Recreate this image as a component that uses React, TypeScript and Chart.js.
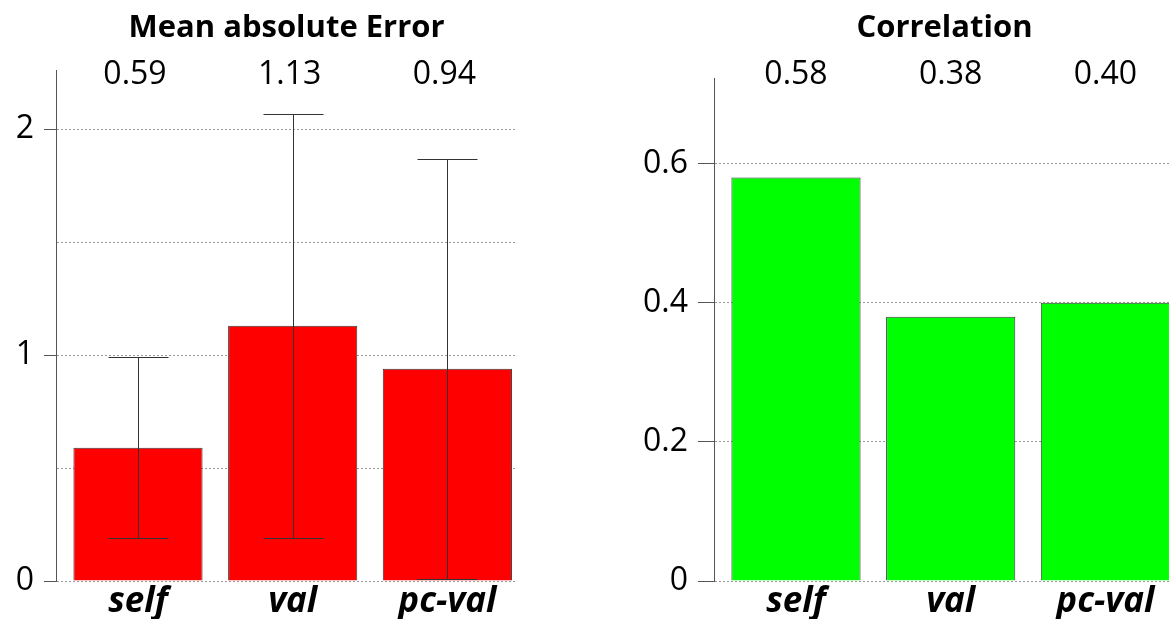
import React, { useEffect, useRef } from "react";
import { Chart, registerables } from "chart.js";

Chart.register(...registerables);

const categories = ["self", "val", "pc-val"];
const maeValues = [0.59, 1.13, 0.94];
const maeErrors = [0.4, 0.94, 0.93];
const corrValues = [0.58, 0.38, 0.4];
const maeTitle = "Mean absolute Error";
const corrTitle = "Correlation";

const FONT = '"Open Sans", "Noto Sans", sans-serif';

const overlayPlugin = {
  id: "overlay",
  afterDatasetsDraw(chart: any, _args: any, opts: any) {
    const { ctx, chartArea } = chart;
    const x = chart.scales.x;
    const y = chart.scales.y;
    const values: number[] = opts.values;
    const errors: number[] | undefined = opts.errors;
    ctx.save();
    if (errors) {
      ctx.strokeStyle = "#333";
      ctx.lineWidth = 1;
      values.forEach((v, i) => {
        const px = Math.round(x.getPixelForValue(i)) + 0.5;
        const top = Math.round(y.getPixelForValue(v + errors[i])) + 0.5;
        const bot = Math.round(y.getPixelForValue(v - errors[i])) + 0.5;
        ctx.beginPath();
        ctx.moveTo(px, top);
        ctx.lineTo(px, bot);
        ctx.moveTo(px - 30, top);
        ctx.lineTo(px + 30, top);
        ctx.moveTo(px - 30, bot);
        ctx.lineTo(px + 30, bot);
        ctx.stroke();
      });
    }
    ctx.fillStyle = "#000";
    ctx.textAlign = "center";
    ctx.textBaseline = "middle";
    ctx.font = `bold 31px ${FONT}`;
    ctx.fillText(opts.title, (chartArea.left + chartArea.right) / 2 + (opts.titleDx || 0), 28);
    ctx.font = `32px ${FONT}`;
    values.forEach((v, i) => {
      ctx.fillText(v.toFixed(2), x.getPixelForValue(i) + (opts.labelDx || 0), 75);
    });
    ctx.restore();
  },
};

function makeConfig(
  values: number[],
  color: string,
  yMax: number,
  step: number,
  yWidth: number,
  pad: any,
  tickLen: number,
  labelFn: (v: number) => string,
  tickShown: (v: number) => boolean,
  title: string,
  titleDx: number,
  labelDx: number,
  errors?: number[]
): any {
  return {
    type: "bar",
    data: {
      datasets: [
        {
          data: values.map((v, i) => ({ x: i, y: v })),
          backgroundColor: color,
          borderColor: "#3a3a3a",
          borderWidth: 1,
          categoryPercentage: 1,
          barPercentage: 0.835,
        },
      ],
    },
    options: {
      responsive: false,
      animation: false,
      devicePixelRatio: 1,
      layout: { padding: pad },
      plugins: {
        legend: { display: false },
        tooltip: { enabled: false },
        title: { display: false },
        overlay: { values, errors, title, titleDx, labelDx },
      },
      scales: {
        x: {
          type: "linear",
          min: -0.53,
          max: 2.45,
          offset: false,
          afterFit: (s: any) => {
            s.height = 38;
          },
          ticks: {
            stepSize: 1,
            includeBounds: false,
            autoSkip: false,
            maxRotation: 0,
            color: "#000",
            padding: 0,
            font: { family: FONT, size: 35, weight: "bold", style: "italic" },
            callback: (v: number) => categories[v] ?? "",
          },
          grid: { display: false, drawTicks: false, offset: false },
          border: { display: false },
        },
        y: {
          min: 0,
          max: yMax,
          afterFit: (s: any) => {
            s.width = yWidth;
          },
          ticks: {
            stepSize: step,
            includeBounds: false,
            color: "#000",
            padding: 10,
            font: { family: FONT, size: 32 },
            callback: (v: number) => labelFn(v),
          },
          grid: {
            color: "#9a9a9a",
            lineWidth: 1,
            borderDash: [2, 2],
            tickLength: tickLen,
            tickBorderDash: [],
            tickColor: (c: any) => (tickShown(c.tick.value) ? "#555" : "rgba(0,0,0,0)"),
          },
          border: { display: true, color: "#555", width: 1, dash: [2, 2] },
        },
      },
    },
    plugins: [overlayPlugin],
  };
}

function BarPanel(props: { config: any; width: number; height: number; left: number }) {
  const ref = useRef<HTMLCanvasElement | null>(null);
  useEffect(() => {
    if (!ref.current) return;
    const chart = new Chart(ref.current, props.config);
    return () => chart.destroy();
  }, []);
  return (
    <canvas
      ref={ref}
      width={props.width}
      height={props.height}
      style={{ position: "absolute", left: props.left, top: 0, width: props.width, height: props.height, display: "block" }}
    />
  );
}

export default function App() {
  const maeConfig = makeConfig(
    maeValues,
    "#ff0000",
    2.263,
    0.5,
    56,
    { top: 70, right: 43, left: 0, bottom: 0 },
    12,
    (v) => (Number.isInteger(v) ? String(v) : ""),
    (v) => Number.isInteger(v),
    maeTitle,
    0,
    -3,
    maeErrors
  );
  const corrConfig = makeConfig(
    corrValues,
    "#00ff00",
    0.7232,
    0.2,
    113,
    { top: 78, right: 26, left: 0, bottom: 0 },
    16,
    (v) => String(Math.round(v * 10) / 10),
    () => true,
    corrTitle,
    0,
    0
  );
  return (
    <div
      style={{
        position: "fixed",
        left: 0,
        top: 0,
        width: 1169,
        height: 619,
        overflow: "hidden",
        background: "#fff",
      }}
    >
      <BarPanel config={maeConfig} width={560} height={619} left={0} />
      <BarPanel config={corrConfig} width={600} height={619} left={601} />
    </div>
  );
}
